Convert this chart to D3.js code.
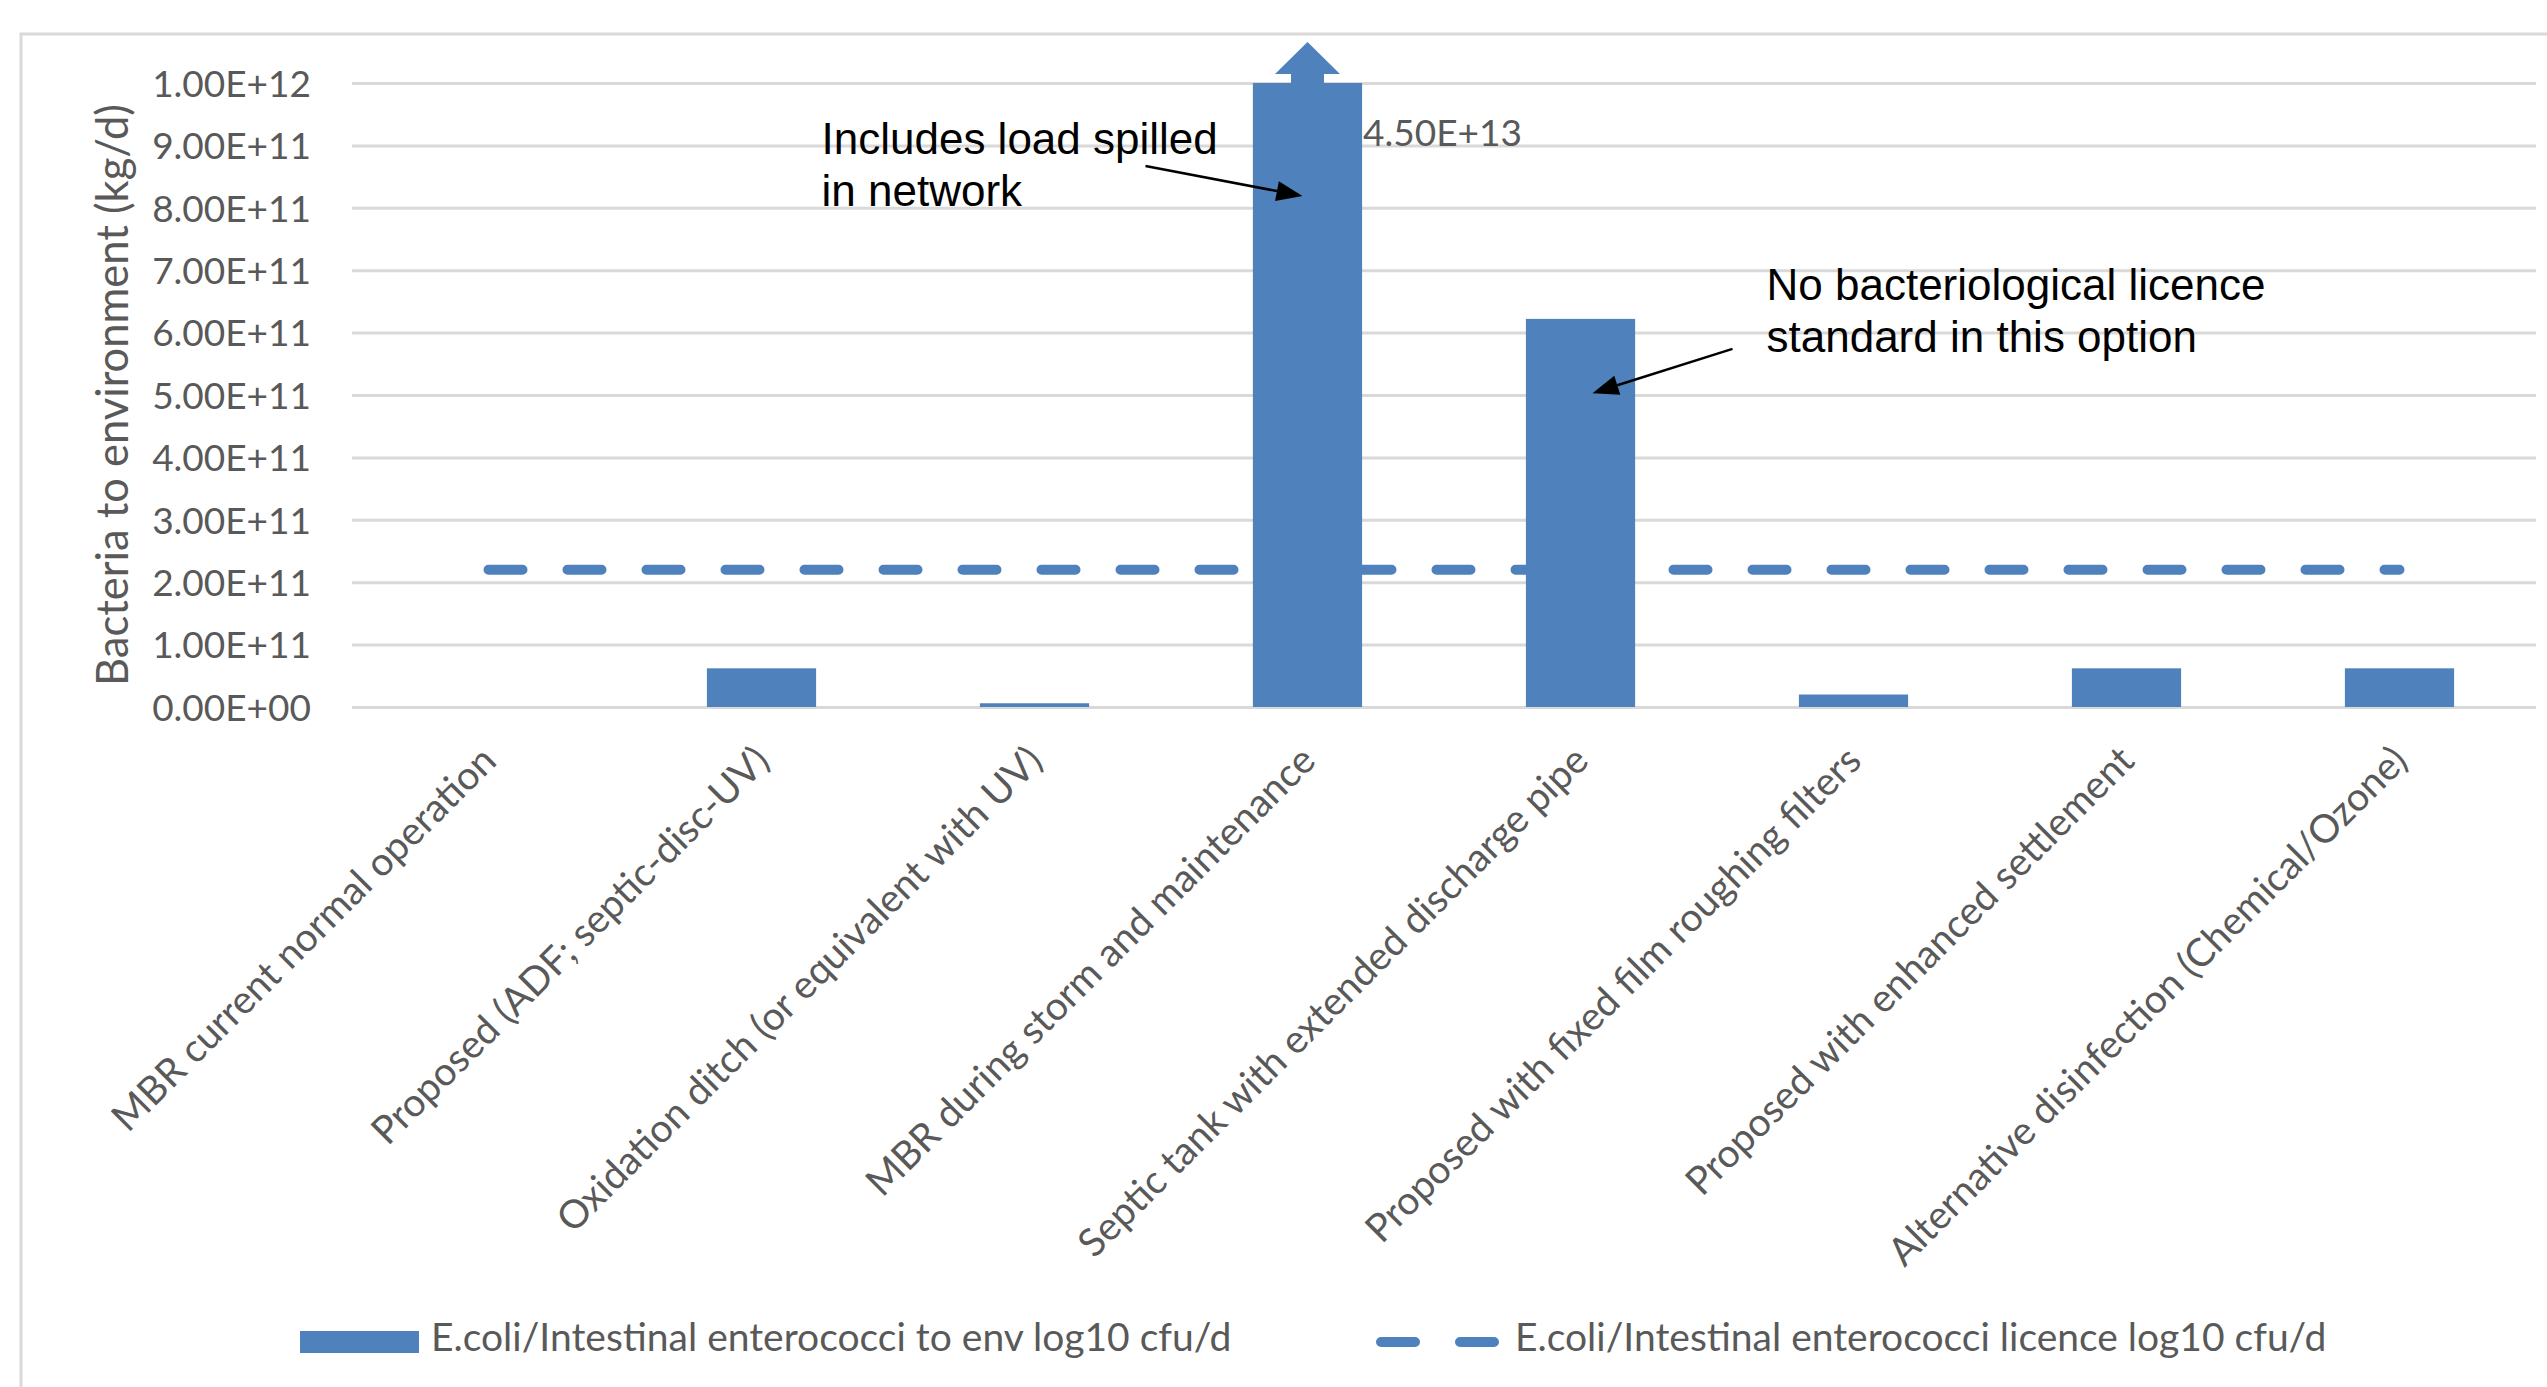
<!DOCTYPE html>
<html>
<head>
<meta charset="utf-8">
<script src="https://cdn.jsdelivr.net/npm/d3@7"></script>
<style>
  body { margin: 0; background: #fff; }
  svg { display: block; }
</style>
</head>
<body>
<div id="chart"></div>
<script>
// categories on the x axis
const categories = [
  "MBR current normal operation",
  "Proposed (ADF; septic-disc-UV)",
  "Oxidation ditch (or equivalent with UV)",
  "MBR during storm and maintenance",
  "Septic tank with extended discharge pipe",
  "Proposed with fixed film roughing filters",
  "Proposed with enhanced settlement",
  "Alternative disinfection (Chemical/Ozone)"
];

// bacteria load to environment (bars)
const loadValues = [0, 6.2e10, 6e9, 4.5e13, 6.22e11, 2e10, 6.2e10, 6.2e10];

// licence standard (dashed line)
const licenceValues = [2.2e11, 2.2e11, 2.2e11, 2.2e11, 2.2e11, 2.2e11, 2.2e11, 2.2e11];

const yTicks = [0, 1e11, 2e11, 3e11, 4e11, 5e11, 6e11, 7e11, 8e11, 9e11, 1e12];

const seriesNames = [
  "E.coli/Intestinal enterococci to env log10 cfu/d",
  "E.coli/Intestinal enterococci licence log10 cfu/d"
];

const axisTitle = "Bacteria to environment (kg/d)";

// callouts: text lines, where the text sits, and where the arrow points
const notes = [
  { lines: ["Includes load spilled", "in network"], cat: 1, dx: 60, value: 8.86e11,
    from: { cat: 3, dx: -162, value: 8.67e11 }, to: { cat: 3, dx: -5, value: 8.19e11 } },
  { lines: ["No bacteriological licence", "standard in this option"], cat: 4, dx: 186, value: 6.52e11,
    from: { cat: 4, dx: 152, value: 5.74e11 }, to: { cat: 4, dx: 12, value: 5.03e11 } }
];

const W = 2547, H = 1387;
const plotLeft = 352, plotRight = 2536, plotTop = 83, plotBottom = 707;
const blue = "#4f81bd", grey = "#595959", gridGrey = "#d9d9d9";
const tickFont = "Lato, 'Open Sans', sans-serif";

const sci = v => {
  const [m, e] = v.toExponential(2).split("e");
  const n = +e;
  return m + "E" + (n < 0 ? "-" : "+") + String(Math.abs(n)).padStart(2, "0");
};

const svg = d3.select("#chart").append("svg")
  .attr("width", W)
  .attr("height", H)
  .style("background", "#fff");

// chart border (right and bottom fall off the picture)
svg.append("path")
  .attr("d", `M21,${H + 5}V34H${W + 5}`)
  .attr("fill", "none")
  .attr("stroke", gridGrey)
  .attr("stroke-width", 3);

const x = d3.scaleBand()
  .domain(categories)
  .range([plotLeft, plotRight])
  .paddingInner(0.6)
  .paddingOuter(0.3);

const y = d3.scaleLinear()
  .domain([0, 1e12])
  .range([plotBottom, plotTop])
  .clamp(true);

const cx = i => x(categories[i]) + x.bandwidth() / 2;

// y axis + gridlines
const yAxis = svg.append("g")
  .attr("transform", `translate(${plotLeft},0)`)
  .call(d3.axisLeft(y).tickValues(yTicks).tickFormat(sci)
    .tickSize(-(plotRight - plotLeft)).tickPadding(41));
yAxis.select(".domain").remove();
yAxis.selectAll(".tick line").attr("stroke", gridGrey).attr("stroke-width", 3);
yAxis.selectAll(".tick text")
  .attr("fill", grey)
  .attr("dy", "0.36em")
  .style("font-family", tickFont)
  .style("font-size", "37px");

// axis title
svg.append("text")
  .attr("transform", `translate(128,${(plotTop + plotBottom) / 2}) rotate(-90)`)
  .attr("text-anchor", "middle")
  .attr("fill", grey)
  .style("font-family", tickFont)
  .style("font-size", "43.5px")
  .text(axisTitle);

// x category labels
svg.append("g").selectAll("text")
  .data(categories)
  .join("text")
  .attr("transform", (d, i) => `translate(${cx(i) + 10},763) rotate(-45)`)
  .attr("text-anchor", "end")
  .attr("fill", grey)
  .style("font-family", tickFont)
  .style("font-size", "39px")
  .text(d => d);

// bars
const barData = categories.map((c, i) => ({ cat: c, value: loadValues[i] }));
svg.append("g").selectAll("rect")
  .data(barData)
  .join("rect")
  .attr("x", d => x(d.cat))
  .attr("width", x.bandwidth())
  .attr("y", d => y(d.value))
  .attr("height", d => y(0) - y(d.value))
  .attr("fill", blue);

// overflow arrow + value label for bars above the axis maximum
const over = barData.filter(d => d.value > y.domain()[1]);
svg.append("g").selectAll("path")
  .data(over)
  .join("path")
  .attr("d", d => {
    const c = x(d.cat) + x.bandwidth() / 2, t = y(d.value);
    return `M${c - 16.5},${t}V${t - 9}H${c - 32.5}L${c},${t - 41}L${c + 32.5},${t - 9}H${c + 16.5}V${t}Z`;
  })
  .attr("fill", blue);
svg.append("g").selectAll("text")
  .data(over)
  .join("text")
  .attr("x", d => x(d.cat) + x.bandwidth() + 1)
  .attr("y", d => y(9e11) + 1)
  .attr("fill", grey)
  .style("font-family", tickFont)
  .style("font-size", "37px")
  .text(d => sci(d.value));

// licence line
const line = d3.line()
  .x((d, i) => cx(i))
  .y(d => y(d));
svg.append("path")
  .datum(licenceValues)
  .attr("d", line)
  .attr("fill", "none")
  .attr("stroke", blue)
  .attr("stroke-width", 10)
  .attr("stroke-dasharray", "34,45")
  .attr("stroke-linecap", "round");

// callouts
const pt = p => [cx(p.cat) + p.dx, y(p.value)];
notes.forEach(n => {
  const t = svg.append("text")
    .attr("x", cx(n.cat) + n.dx)
    .attr("y", y(n.value))
    .attr("fill", "#000")
    .style("font-family", "'Liberation Sans', Arial, sans-serif")
    .style("font-size", "44px");
  n.lines.forEach((l, k) => {
    t.append("tspan")
      .attr("x", cx(n.cat) + n.dx)
      .attr("dy", k === 0 ? 0 : 52)
      .text(l);
  });
  const [x1, y1] = pt(n.from), [x2, y2] = pt(n.to);
  const ang = Math.atan2(y2 - y1, x2 - x1);
  const len = 26, hw = 10;
  const bx = x2 - len * Math.cos(ang), by = y2 - len * Math.sin(ang);
  svg.append("line")
    .attr("x1", x1).attr("y1", y1).attr("x2", bx).attr("y2", by)
    .attr("stroke", "#000").attr("stroke-width", 2.5);
  svg.append("path")
    .attr("d", `M${x2},${y2}L${bx - hw * Math.sin(ang)},${by + hw * Math.cos(ang)}L${bx + hw * Math.sin(ang)},${by - hw * Math.cos(ang)}Z`)
    .attr("fill", "#000");
});

// legend
const lg = svg.append("g").style("font-family", tickFont).style("font-size", "39px");
lg.append("rect").attr("x", 300).attr("y", 1331).attr("width", 119).attr("height", 22).attr("fill", blue);
lg.append("text").attr("x", 431).attr("y", 1351).attr("fill", grey).text(seriesNames[0]);
lg.append("line").attr("x1", 1381).attr("x2", 1497).attr("y1", 1342).attr("y2", 1342)
  .attr("stroke", blue).attr("stroke-width", 10)
  .attr("stroke-dasharray", "34,45").attr("stroke-linecap", "round");
lg.append("text").attr("x", 1515).attr("y", 1351).attr("fill", grey).text(seriesNames[1]);
</script>
</body>
</html>
